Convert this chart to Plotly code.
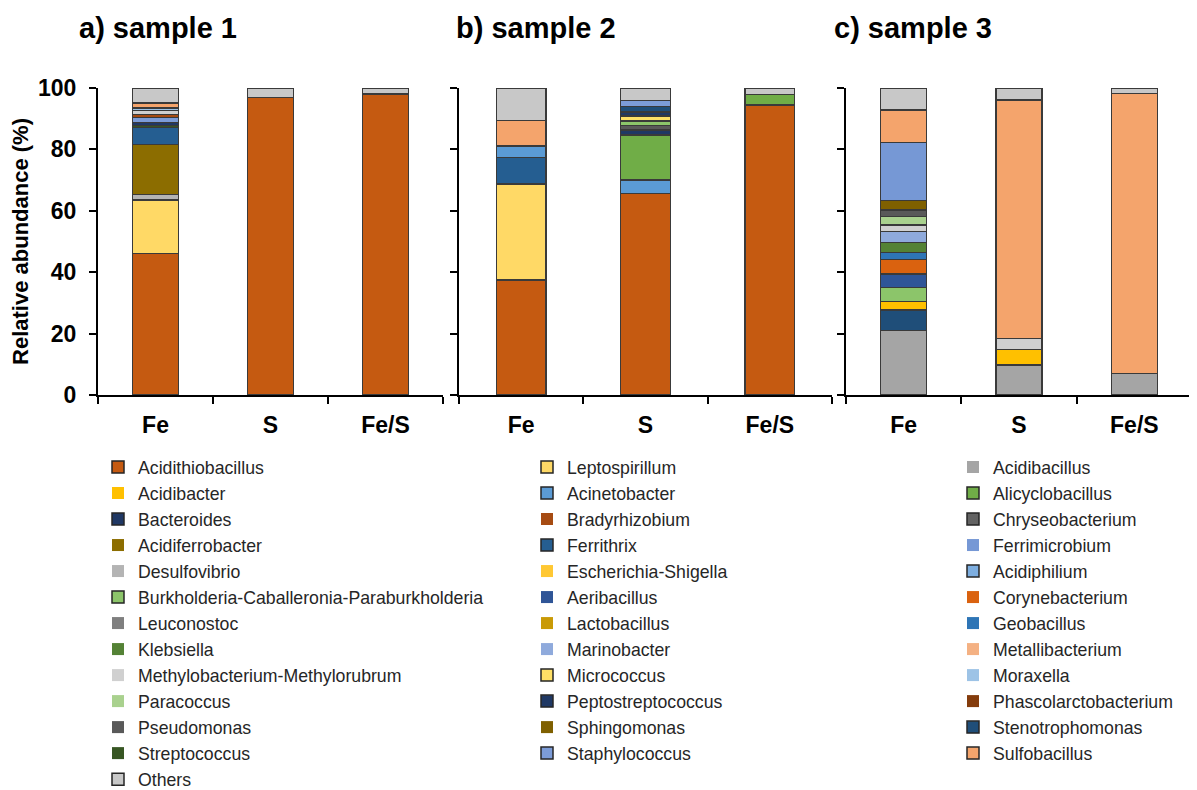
import plotly.graph_objects as go

conditions = ["Fe", "S", "Fe/S"]

# ---- sample 1 (stack order bottom -> top) ----
s1_genera = ["Acidithiobacillus", "Leptospirillum", "Desulfovibrio", "Acidiferrobacter",
             "Ferrithrix", "Streptococcus", "Bacteroides", "Staphylococcus", "Bradyrhizobium",
             "Methylobacterium-Methylorubrum", "Moraxella", "Sulfobacillus", "Others"]
s1_fe = [46.0, 17.5, 1.7, 16.5, 5.4, 0.8, 0.8, 1.8, 0.9, 1.2, 0.9, 1.6, 4.9]
s1_s = [97.0, 0, 0, 0, 0, 0, 0, 0, 0, 0, 0, 0, 3.0]
s1_fes = [98.0, 0, 0, 0, 0, 0, 0, 0, 0, 0, 0, 0, 2.0]

# ---- sample 2 ----
s2_genera = ["Acidithiobacillus", "Leptospirillum", "Ferrithrix", "Acinetobacter", "Alicyclobacillus",
             "Peptostreptococcus", "Pseudomonas", "Burkholderia-Caballeronia-Paraburkholderia",
             "Micrococcus", "Bacteroides", "Stenotrophomonas", "Staphylococcus", "Sulfobacillus", "Others"]
s2_fe = [37.5, 31.2, 8.6, 3.8, 0, 0, 0, 0, 0, 0, 0, 0, 8.3, 10.6]
s2_s = [65.6, 0, 0, 4.4, 14.7, 1.6, 1.6, 1.4, 1.6, 1.3, 1.7, 2.0, 0, 4.1]
s2_fes = [94.5, 0, 0, 0, 3.4, 0, 0, 0, 0, 0, 0, 0, 0, 2.1]

# ---- sample 3 ----
s3_genera = ["Acidibacillus", "Stenotrophomonas", "Acidibacter", "Burkholderia-Caballeronia-Paraburkholderia",
             "Aeribacillus", "Corynebacterium", "Geobacillus", "Klebsiella", "Marinobacter",
             "Methylobacterium-Methylorubrum", "Paracoccus", "Pseudomonas", "Sphingomonas",
             "Ferrimicrobium", "Sulfobacillus", "Others"]
s3_fe = [20.9, 6.8, 2.7, 4.7, 4.3, 4.8, 2.2, 3.2, 3.6, 2.2, 2.7, 2.2, 3.0, 18.9, 10.6, 7.2]
s3_s = [9.8, 0, 5.1, 0, 0, 0, 0, 0, 0, 3.4, 0, 0, 0, 0, 77.8, 3.9]
s3_fes = [7.1, 0, 0, 0, 0, 0, 0, 0, 0, 0, 0, 0, 0, 0, 91.2, 1.7]

# ---- legend columns ----
legend_col1 = ["Acidithiobacillus", "Acidibacter", "Bacteroides", "Acidiferrobacter", "Desulfovibrio",
               "Burkholderia-Caballeronia-Paraburkholderia", "Leuconostoc", "Klebsiella",
               "Methylobacterium-Methylorubrum", "Paracoccus", "Pseudomonas", "Streptococcus", "Others"]
legend_col2 = ["Leptospirillum", "Acinetobacter", "Bradyrhizobium", "Ferrithrix", "Escherichia-Shigella",
               "Aeribacillus", "Lactobacillus", "Marinobacter", "Micrococcus", "Peptostreptococcus",
               "Sphingomonas", "Staphylococcus"]
legend_col3 = ["Acidibacillus", "Alicyclobacillus", "Chryseobacterium", "Ferrimicrobium", "Acidiphilium",
               "Corynebacterium", "Geobacillus", "Metallibacterium", "Moraxella", "Phascolarctobacterium",
               "Stenotrophomonas", "Sulfobacillus"]

colors = {
    "Acidithiobacillus": "#C55A11", "Acidibacter": "#FFC000", "Bacteroides": "#203864",
    "Acidiferrobacter": "#8C6D00", "Desulfovibrio": "#B4B4B4",
    "Burkholderia-Caballeronia-Paraburkholderia": "#8CC56A", "Leuconostoc": "#7F7F7F",
    "Klebsiella": "#548235", "Methylobacterium-Methylorubrum": "#D0D0D0", "Paracoccus": "#A9D18E",
    "Pseudomonas": "#595959", "Streptococcus": "#375623", "Others": "#C8C8C8",
    "Leptospirillum": "#FFD966", "Acinetobacter": "#5B9BD5", "Bradyrhizobium": "#A64B12",
    "Ferrithrix": "#255E91", "Escherichia-Shigella": "#FFC833", "Aeribacillus": "#2F5597",
    "Lactobacillus": "#C99A06", "Marinobacter": "#8FAADC", "Micrococcus": "#FFE066",
    "Peptostreptococcus": "#1F3864", "Sphingomonas": "#7F6000", "Staphylococcus": "#7C9CD8",
    "Acidibacillus": "#A5A5A5", "Alicyclobacillus": "#70AD47", "Chryseobacterium": "#636363",
    "Ferrimicrobium": "#7698D5", "Acidiphilium": "#7DAEE0", "Corynebacterium": "#DA620F",
    "Geobacillus": "#2E75B6", "Metallibacterium": "#F4B183", "Moraxella": "#9DC3E6",
    "Phascolarctobacterium": "#843C0C", "Stenotrophomonas": "#1F4E79", "Sulfobacillus": "#F4A46C",
}
bordered = {"Acidithiobacillus", "Bacteroides", "Burkholderia-Caballeronia-Paraburkholderia", "Others",
            "Leptospirillum", "Acinetobacter", "Ferrithrix", "Micrococcus", "Peptostreptococcus",
            "Staphylococcus", "Alicyclobacillus", "Chryseobacterium", "Acidiphilium",
            "Stenotrophomonas", "Sulfobacillus"}

FONT = "Liberation Sans"
fig = go.Figure()

panels = [("x", "y", s1_genera, s1_fe, s1_s, s1_fes),
          ("x2", "y2", s2_genera, s2_fe, s2_s, s2_fes),
          ("x3", "y3", s3_genera, s3_fe, s3_s, s3_fes)]
for xa, ya, genera, fe, s, fes in panels:
    for i, g in enumerate(genera):
        vals = [v if v > 0 else None for v in (fe[i], s[i], fes[i])]
        fig.add_trace(go.Bar(
            x=conditions, y=vals, name=g, xaxis=xa, yaxis=ya, showlegend=False,
            marker=dict(color=colors[g], line=dict(color="#3A3A3A", width=1.3)),
        ))

for lg, names in (("legend", legend_col1), ("legend2", legend_col2), ("legend3", legend_col3)):
    for g in names:
        fig.add_trace(go.Bar(
            x=[None], y=[None], name=g, legend=lg, showlegend=True,
            marker=dict(color=colors[g],
                        line=dict(color="#262626", width=1.5 if g in bordered else 0)),
        ))

W, H = 1197, 790
OFF = 8  # page offset of the plot div
ytop, ybot = 88 - OFF, 395 - OFF
ydom = [1 - ybot / H, 1 - ytop / H]
xdoms = [[(98 - OFF) / W, (443 - OFF) / W],
         [(459 - OFF) / W, (832 - OFF) / W],
         [(846 - OFF) / W, (1192 - OFF) / W]]

axis_common = dict(showline=True, linecolor="black", linewidth=2, ticks="outside",
                   tickwidth=2, tickcolor="black", ticklen=7, showgrid=False, zeroline=False,
                   automargin=False)
for k, dom in enumerate(xdoms):
    sfx = "" if k == 0 else str(k + 1)
    fig.update_layout(**{
        "xaxis" + sfx: dict(axis_common, domain=dom, type="category", range=[-0.5, 2.5],
                            tickson="boundaries", anchor="y" + sfx, ticklabelstandoff=8,
                            tickfont=dict(family=FONT, size=23, color="black", weight="bold")),
        "yaxis" + sfx: dict(axis_common, domain=ydom, range=[0, 100], anchor="x" + sfx,
                            tickvals=[0, 20, 40, 60, 80, 100], showticklabels=(k == 0),
                            ticklabelstandoff=8,
                            tickfont=dict(family=FONT, size=23, color="black", weight="bold")),
    })

fig.update_layout(
    yaxis_title=dict(text="Relative abundance (%)", standoff=6,
                     font=dict(family=FONT, size=22, color="black", weight="bold")),
)

titles = [("a) sample 1", 80), ("b) sample 2", 457), ("c) sample 3", 835)]
for t, xp in titles:
    fig.add_annotation(text=t, x=(xp - OFF - 3) / W, y=1 - (28 - OFF) / H,
                       xref="paper", yref="paper",
                       xanchor="left", yanchor="middle", showarrow=False,
                       font=dict(family=FONT, size=29, color="black", weight="bold"))

leg_common = dict(orientation="v", yanchor="top", y=1 - 441 / H, xanchor="left",
                  bgcolor="rgba(0,0,0,0)", traceorder="normal",
                  font=dict(family=FONT, size=17.7, color="#262626"))
fig.update_layout(
    legend=dict(leg_common, x=90 / W),
    legend2=dict(leg_common, x=519 / W),
    legend3=dict(leg_common, x=945 / W),
)

fig.update_layout(
    width=W, height=H, barmode="stack", bargap=0.6,
    margin=dict(l=0, r=0, t=0, b=0, autoexpand=False),
    paper_bgcolor="white", plot_bgcolor="white",
    font=dict(family=FONT, color="black"),
)

fig.write_html("out.html")
